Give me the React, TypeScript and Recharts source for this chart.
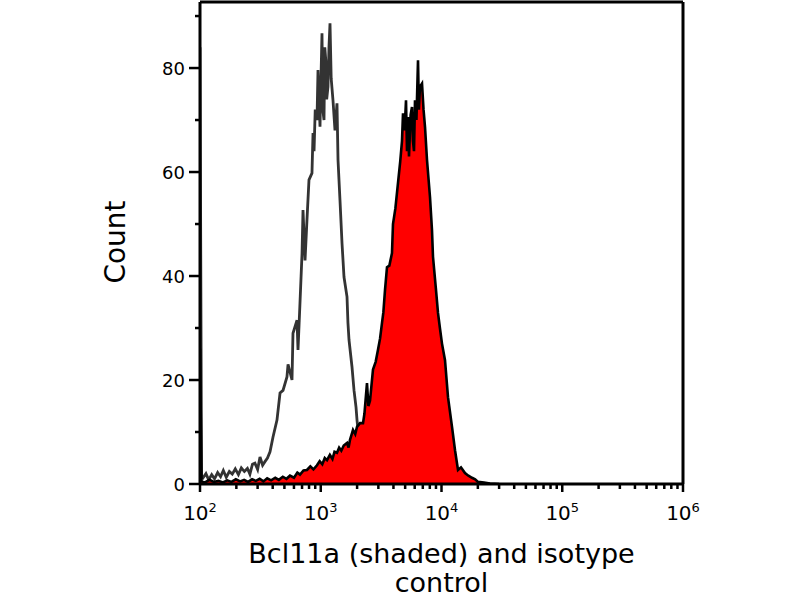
import React from 'react';
import { ComposedChart, Area, XAxis, YAxis, ReferenceLine } from 'recharts';

// isotype control (unshaded, grey outline): [fluorescence, count]
const isotypePoints: [number, number][] = [
  [100, 84], [103, 1.5], [106, 1.2], [112, 2.0], [118, 0.8], [125, 1.8], [132, 1.0], [140, 2.2],
  [148, 1.4], [156, 2.6], [165, 1.3], [175, 2.4], [185, 1.9], [196, 2.9], [208, 1.8], [220, 3.1],
  [233, 2.4], [247, 3.0], [259, 1.9], [272, 3.8], [285, 4.0], [300, 2.8], [314, 5.2], [330, 3.6],
  [345, 4.3], [362, 5.0], [380, 6.2], [402, 9.0], [434, 12.3], [460, 17.5], [487, 18.0], [525, 20.6],
  [536, 23.0], [578, 20.0], [589, 29.0], [636, 31.5], [648, 25.8], [673, 34.8], [700, 44.4], [713, 52.7],
  [741, 43.0], [769, 50.8], [799, 58.5], [846, 59.8], [863, 67.5], [880, 64.0], [900, 72.0], [931, 70.0],
  [949, 79.6], [986, 68.7], [1000, 76.0], [1024, 86.7], [1040, 72.0], [1064, 70.0], [1080, 84.0], [1105, 81.0],
  [1120, 74.0], [1148, 76.4], [1170, 84.0], [1193, 88.6], [1220, 78.0], [1263, 73.8], [1312, 68.0], [1363, 73.2],
  [1390, 62.3], [1443, 54.6], [1500, 46.3], [1558, 39.8], [1650, 36.0], [1680, 31.0], [1714, 27.7], [1815, 22.5],
  [1886, 18.0], [1959, 14.8], [1997, 12.3], [2074, 8.5], [2196, 4.0], [2326, 1.5], [2558, 0.6], [2814, 0.2],
  [3095, 0],
];

// Bcl11a stained (red shaded)
const bcl11aPoints: [number, number][] = [
  [100, 26], [103, 0.5], [110, 0.3], [120, 0.8], [130, 0.4], [142, 0.6], [155, 0.3], [168, 0.7],
  [182, 0.4], [198, 0.9], [215, 0.5], [232, 0.8], [250, 0.4], [270, 0.9], [290, 0.6], [312, 1.0],
  [335, 0.5], [360, 1.1], [388, 0.7], [420, 1.2], [450, 0.8], [485, 1.4], [520, 1.0], [556, 1.6],
  [600, 1.2], [640, 2.2], [673, 1.8], [720, 2.6], [769, 2.7], [820, 3.4], [870, 2.8], [931, 3.6],
  [980, 4.4], [1030, 3.8], [1080, 5.0], [1127, 4.6], [1190, 5.6], [1250, 4.8], [1300, 6.2], [1363, 6.0],
  [1420, 7.0], [1480, 6.4], [1550, 7.4], [1650, 7.9], [1700, 7.0], [1747, 8.5], [1850, 10.4], [1930, 9.6],
  [1997, 11.0], [2114, 11.7], [2239, 11.7], [2300, 13.5], [2415, 19.4], [2480, 15.0], [2558, 16.0], [2708, 22.0],
  [2850, 23.5], [2979, 25.8], [3100, 28.0], [3216, 31.0], [3300, 33.0], [3405, 37.3], [3537, 41.7], [3700, 42.0],
  [3890, 44.4], [3965, 50.0], [4150, 53.0], [4363, 57.9], [4550, 62.0], [4709, 66.0], [4800, 71.3], [4950, 68.0],
  [5082, 73.8], [5180, 64.0], [5280, 70.6], [5380, 63.0], [5550, 71.0], [5697, 72.5], [5800, 66.0], [5920, 64.0],
  [6033, 73.8], [6200, 70.0], [6390, 81.5], [6500, 72.0], [6636, 76.4], [6896, 77.0], [7100, 72.0], [7301, 68.7],
  [7586, 62.3], [8030, 55.2], [8342, 48.8], [8503, 43.7], [9006, 37.3], [9354, 32.9], [9700, 30.0], [10095, 27.0],
  [10690, 23.8], [11320, 16.7], [12220, 11.0], [12940, 6.5], [13700, 2.7], [14500, 3.2], [15650, 2.1], [16700, 1.6],
  [17890, 1.2], [19000, 0.9], [20060, 0.4], [22500, 0.3], [25220, 0.1], [30000, 0],
];

const xMajorTicks = [100, 1000, 10000, 100000, 1000000];
const xMinorTicks = [
  200, 300, 400, 500, 600, 700, 800, 900,
  2000, 3000, 4000, 5000, 6000, 7000, 8000, 9000,
  20000, 30000, 40000, 50000, 60000, 70000, 80000, 90000,
  200000, 300000, 400000, 500000, 600000, 700000, 800000, 900000,
];
const yMajorTicks = [0, 20, 40, 60, 80];
const yMinorTicks = [10, 30, 50, 70, 90];
const xDomain = [100, 1000000];
const yDomain = [0, 92.7];

const isotypeData = isotypePoints.map(([x, y]) => ({ x, y }));
const bcl11aData = bcl11aPoints.map(([x, y]) => ({ x, y }));

const FONT = '"DejaVu Sans", sans-serif';

function XTick(props: any) {
  const { x, y, payload } = props;
  const v = payload.value;
  const major = xMajorTicks.includes(v);
  if (!major) {
    return <line x1={x} x2={x} y1={y} y2={y + 5} stroke="#000" strokeWidth={2.5} />;
  }
  const exp = Math.round(Math.log10(v));
  return (
    <g>
      <line x1={x} x2={x} y1={y} y2={y + 8} stroke="#000" strokeWidth={2.5} />
      <text x={x} y={y + 36} textAnchor="middle" fontFamily={FONT} fontSize={20} fill="#000">
        <tspan>10</tspan>
        <tspan fontSize={13} dy={-8}>{exp}</tspan>
      </text>
    </g>
  );
}

function YTick(props: any) {
  const { x, y, payload } = props;
  const v = payload.value;
  const major = yMajorTicks.includes(v);
  if (!major) {
    return <line x1={x} x2={x - 5} y1={y} y2={y} stroke="#000" strokeWidth={2.5} />;
  }
  return (
    <g>
      <line x1={x} x2={x - 11} y1={y} y2={y} stroke="#000" strokeWidth={2.5} />
      <text x={x - 15} y={y + 6.5} textAnchor="end" fontFamily={FONT} fontSize={18} fill="#000">
        {v}
      </text>
    </g>
  );
}

export default function App() {
  return (
    <div style={{ position: 'absolute', left: 0, top: 0, width: 800, height: 600, background: '#fff' }}>
      <ComposedChart width={800} height={600} margin={{ top: 2, right: 117, bottom: 0, left: 0 }}>
        <XAxis
          dataKey="x"
          type="number"
          scale="log"
          domain={xDomain}
          allowDataOverflow
          ticks={[...xMajorTicks, ...xMinorTicks]}
          interval={0}
          tick={<XTick />}
          tickLine={false}
          tickSize={0}
          tickMargin={0}
          height={116}
          axisLine={{ stroke: '#000', strokeWidth: 3 }}
          label={{
            content: () => (
              <text textAnchor="middle" fontFamily={FONT} fontSize={27} fill="#000">
                <tspan x={441.5} y={563}>Bcl11a (shaded) and isotype</tspan>
                <tspan x={441.5} y={592}>control</tspan>
              </text>
            ),
          }}
        />
        <YAxis
          type="number"
          domain={yDomain}
          allowDataOverflow
          ticks={[...yMajorTicks, ...yMinorTicks]}
          interval={0}
          tick={<YTick />}
          tickLine={false}
          tickSize={0}
          tickMargin={0}
          width={200}
          axisLine={{ stroke: '#000', strokeWidth: 3 }}
          label={{
            content: () => (
              <text
                x={115}
                y={242}
                transform="rotate(-90 115 242)"
                textAnchor="middle"
                dominantBaseline="central"
                fontFamily={FONT}
                fontSize={28}
                fill="#000"
              >
                Count
              </text>
            ),
          }}
        />
        <Area
          data={isotypeData}
          dataKey="y"
          type="linear"
          fill="none"
          fillOpacity={0}
          stroke="#333"
          strokeWidth={2.8}
          isAnimationActive={false}
          dot={false}
          activeDot={false}
        />
        <Area
          data={bcl11aData}
          dataKey="y"
          type="linear"
          fill="#ff0000"
          fillOpacity={1}
          stroke="#000"
          strokeWidth={2.6}
          isAnimationActive={false}
          dot={false}
          activeDot={false}
        />
        <ReferenceLine y={yDomain[1]} stroke="#000" strokeWidth={3} />
        <ReferenceLine x={xDomain[1]} stroke="#000" strokeWidth={3} />
      </ComposedChart>
    </div>
  );
}
